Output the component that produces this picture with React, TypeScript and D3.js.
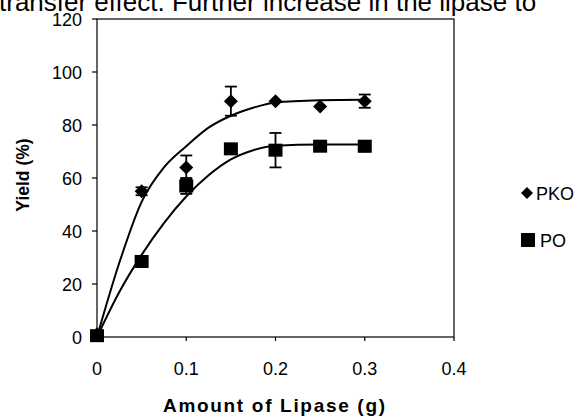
import * as d3 from "d3";

const doses = [0, 0.05, 0.1, 0.15, 0.2, 0.25, 0.3];
const pkoYield = [1, 55, 64, 89, 89, 87, 89];
const pkoErr = [0, 1.5, 4.5, 5.5, 1, 1, 2.5];
const poYield = [0.5, 28.5, 57, 71, 70.5, 72, 72];
const poErr = [0, 2, 3, 1, 6.5, 1, 2];

// fitted curves
const fitX = [0, 0.025, 0.05, 0.075, 0.1, 0.125, 0.15, 0.175, 0.2, 0.25, 0.3];
const pkoFit = [0, 28, 51, 64, 72, 79, 83.5, 86.5, 88.5, 89.3, 89.5];
const poFit = [0, 17, 31, 43, 53, 61, 67, 70.5, 72.2, 72.6, 72.6];

const xTicks = [0, 0.1, 0.2, 0.3, 0.4];
const yTicks = [0, 20, 40, 60, 80, 100, 120];

export default function App() {
  const width = 585;
  const height = 418;
  const x = d3.scaleLinear([0, 0.4], [97, 454]);
  const y = d3.scaleLinear([0, 120], [337, 19]);
  const line = d3
    .line<number>()
    .x((_, i) => x(fitX[i]))
    .y((d) => y(d))
    .curve(d3.curveMonotoneX);
  const font = "Arial, 'Liberation Sans', sans-serif";
  const diamondPath = (r: number) => `M0,${-r}L${r},0L0,${r}L${-r},0Z`;

  return (
    <svg
      width={width}
      height={height}
      style={{ position: "absolute", left: 0, top: 0, background: "#fff" }}
      fontFamily={font}
    >
      <text x={-1} y={11} fontSize={26}>
        transfer effect. Further increase in the lipase to
      </text>

      {/* frame */}
      <rect
        x={x(0)}
        y={y(120)}
        width={x(0.4) - x(0)}
        height={y(0) - y(120)}
        fill="none"
        stroke="#000"
        strokeWidth={1.2}
      />
      <g stroke="#000" strokeWidth={1.2}>
        {yTicks.map((t) => (
          <line key={t} x1={x(0) - 5} x2={x(0)} y1={y(t)} y2={y(t)} />
        ))}
        {xTicks.map((t) => (
          <line key={t} x1={x(t)} x2={x(t)} y1={y(0)} y2={y(0) + 4} />
        ))}
      </g>
      <g fontSize={18} textAnchor="end">
        {yTicks.map((t) => (
          <text key={t} x={x(0) - 15} y={y(t) + 6.5}>
            {t}
          </text>
        ))}
      </g>
      <g fontSize={18} textAnchor="middle">
        {xTicks.map((t) => (
          <text key={t} x={x(t)} y={375}>
            {t}
          </text>
        ))}
      </g>
      <text
        fontSize={17.5}
        fontWeight="bold"
        textAnchor="middle"
        transform={`translate(29,175) rotate(-90)`}
      >
        Yield (%)
      </text>
      <text
        x={163}
        y={412}
        fontSize={19}
        fontWeight="bold"
        textLength={222}
        lengthAdjust="spacing"
      >
        Amount of Lipase (g)
      </text>

      {/* fitted curves */}
      <path d={line(pkoFit) as string} fill="none" stroke="#000" strokeWidth={2} />
      <path d={line(poFit) as string} fill="none" stroke="#000" strokeWidth={2} />

      {/* error bars */}
      <g stroke="#000" strokeWidth={1.8}>
        {doses.map((d, i) =>
          [
            [pkoYield[i], pkoErr[i]],
            [poYield[i], poErr[i]],
          ].map(([v, e], j) =>
            e > 1.2 ? (
              <g key={`${i}-${j}`}>
                <line x1={x(d)} x2={x(d)} y1={y(v - e)} y2={y(v + e)} />
                <line x1={x(d) - 6} x2={x(d) + 6} y1={y(v + e)} y2={y(v + e)} />
                <line x1={x(d) - 6} x2={x(d) + 6} y1={y(v - e)} y2={y(v - e)} />
              </g>
            ) : null
          )
        )}
      </g>

      {/* markers */}
      {doses.map((d, i) => (
        <path
          key={`k${i}`}
          d={diamondPath(7)}
          transform={`translate(${x(d)},${y(pkoYield[i])})`}
          fill="#000"
        />
      ))}
      {doses.map((d, i) => (
        <rect
          key={`o${i}`}
          x={x(d) - 7}
          y={y(poYield[i]) - 6.5}
          width={14}
          height={13}
          fill="#000"
        />
      ))}

      {/* legend */}
      <path d={diamondPath(6)} transform="translate(527,193)" fill="#000" />
      <text x={536} y={200} fontSize={18}>
        PKO
      </text>
      <rect x={521} y={233} width={14} height={14} fill="#000" />
      <text x={540} y={247} fontSize={18}>
        PO
      </text>
    </svg>
  );
}
